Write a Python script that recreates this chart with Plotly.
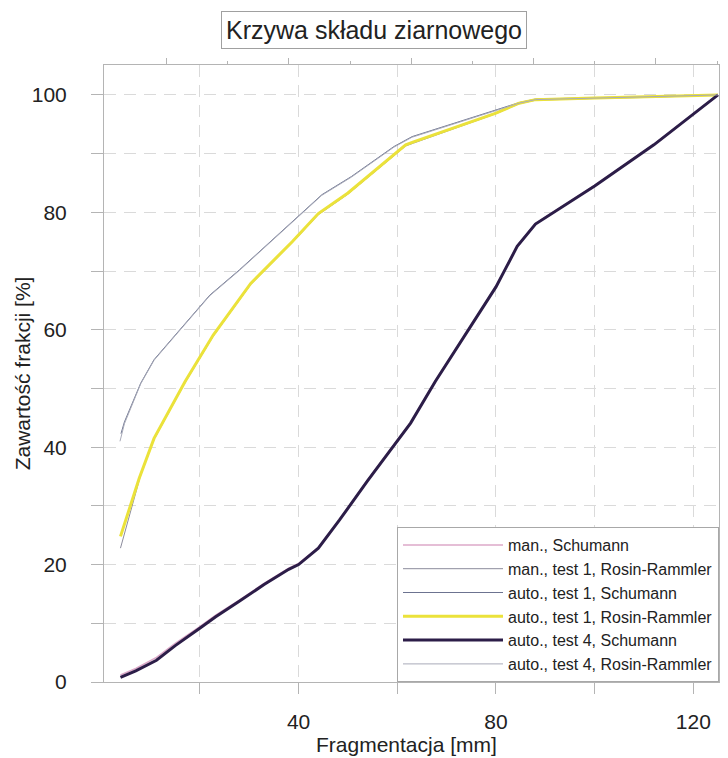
import plotly.graph_objects as go

# ---- data ----
x_man_schumann = [3.9, 7.0, 11.2, 15.0, 19.9, 23.2, 27.9, 33.0, 38.0, 40.0, 44.0, 48.3, 54.0, 62.7, 67.7, 74.0, 80.0, 84.3, 88.0, 100.0, 112.0, 125.0]
y_man_schumann = [1.2, 2.3, 4.2, 6.6, 9.4, 11.4, 13.9, 16.8, 19.4, 20.2, 22.9, 27.7, 34.4, 44.2, 51.3, 59.5, 67.4, 74.3, 78.1, 84.6, 91.6, 100.0]

x_man_t1_rr = [3.9, 7.9, 10.7, 17.0, 22.7, 30.3, 38.7, 44.0, 50.0, 61.7, 63.3, 80.0, 84.7, 88.0, 100.0, 112.0, 125.0]
y_man_t1_rr = [22.8, 35.0, 41.3, 51.0, 58.9, 67.7, 74.8, 79.6, 83.1, 91.3, 91.8, 96.8, 98.5, 99.1, 99.4, 99.6, 100.0]

x_auto_t1_sch = [4.0, 4.7, 8.0, 10.7, 15.0, 22.0, 28.0, 34.7, 40.0, 44.7, 50.7, 59.3, 63.0, 80.0, 84.7, 88.0, 100.0, 112.0, 125.0]
y_auto_t1_sch = [42.3, 44.3, 50.9, 54.9, 59.1, 65.9, 70.2, 75.3, 79.3, 83.0, 86.1, 91.2, 92.9, 97.4, 98.7, 99.3, 99.5, 99.7, 100.0]

x_auto_t1_rr = [3.9, 7.7, 10.7, 17.0, 22.7, 30.3, 38.7, 44.0, 50.0, 61.7, 63.3, 80.0, 84.7, 88.0, 100.0, 112.0, 125.0]
y_auto_t1_rr = [24.8, 34.7, 41.5, 51.2, 59.1, 67.9, 75.0, 79.8, 83.3, 91.5, 92.0, 96.9, 98.6, 99.2, 99.5, 99.7, 100.0]

x_auto_t4_sch = [3.9, 7.0, 11.2, 15.0, 19.9, 23.2, 27.9, 33.0, 38.0, 40.0, 44.0, 48.3, 54.0, 62.7, 67.7, 74.0, 80.0, 84.3, 88.0, 100.0, 112.0, 125.0]
y_auto_t4_sch = [0.8, 1.9, 3.7, 6.2, 9.1, 11.1, 13.7, 16.6, 19.2, 20.0, 22.8, 27.6, 34.3, 44.1, 51.2, 59.4, 67.3, 74.2, 78.0, 84.5, 91.5, 100.0]

x_auto_t4_rr = [3.8, 4.7, 8.0, 10.7, 15.0, 22.0, 28.0, 34.7, 40.0, 44.7, 50.7, 59.3, 63.0, 80.0, 84.7, 88.0, 100.0, 112.0, 125.0]
y_auto_t4_rr = [41.0, 44.0, 50.8, 54.8, 59.0, 65.8, 70.1, 75.2, 79.2, 82.9, 86.0, 91.1, 92.8, 97.3, 98.6, 99.2, 99.5, 99.7, 100.0]

series_names = ["man., Schumann", "man., test 1, Rosin-Rammler", "auto., test 1, Schumann",
                "auto., test 1, Rosin-Rammler", "auto., test 4, Schumann", "auto., test 4, Rosin-Rammler"]

x_tick_vals = [20, 40, 60, 80, 100, 120]
x_tick_text = ["", "40", "", "80", "", "120"]
y_tick_vals = [0, 10, 20, 30, 40, 50, 60, 70, 80, 90, 100]
y_tick_text = ["0", "", "20", "", "40", "", "60", "", "80", "", "100"]

FONT = "Liberation Sans, Arial, sans-serif"
TXT = "#222222"
AX = "#b4b4b4"
GRID = "#dadada"

fig = go.Figure()

styles = [
    (x_man_schumann, y_man_schumann, "#dca8c8", 1.5),
    (x_man_t1_rr, y_man_t1_rr, "#8c8c9c", 1.0),
    (x_auto_t1_sch, y_auto_t1_sch, "#6c7390", 1.0),
    (x_auto_t1_rr, y_auto_t1_rr, "#ebe23a", 3.0),
    (x_auto_t4_sch, y_auto_t4_sch, "#2c1d48", 3.0),
    (x_auto_t4_rr, y_auto_t4_rr, "#a8aab8", 1.0),
]
for (xs, ys, col, w), name in zip(styles, series_names):
    fig.add_trace(go.Scatter(x=xs, y=ys, mode="lines", name=name,
                             line=dict(color=col, width=w), hoverinfo="skip"))

# dummy traces so the frame axes (top / right) are drawn
fig.add_trace(go.Scatter(x=[], y=[], xaxis="x2", yaxis="y", showlegend=False))
fig.add_trace(go.Scatter(x=[], y=[], xaxis="x", yaxis="y2", showlegend=False))

# page body has an 8px margin: figure is 8px smaller and shifted accordingly
fig.update_layout(
    width=720, height=750,
    margin=dict(l=96, r=4, t=57, b=76),
    paper_bgcolor="white", plot_bgcolor="white",
    font=dict(family=FONT, color=TXT),
    showlegend=True,
    xaxis=dict(
        range=[0.56, 125.2], showline=True, linecolor=AX, linewidth=1,
        ticks="outside", ticklen=11, tickcolor=AX,
        tickvals=x_tick_vals, ticktext=x_tick_text,
        tickfont=dict(size=21, color=TXT), ticklabelstandoff=10,
        showgrid=True, gridcolor=GRID, griddash="12px,8px", zeroline=False,
        automargin=False,
    ),
    yaxis=dict(
        range=[0, 105.1], showline=True, linecolor=AX, linewidth=1,
        ticks="outside", ticklen=12, tickcolor=AX,
        tickvals=y_tick_vals, ticktext=y_tick_text,
        tickfont=dict(size=21, color=TXT), ticklabelstandoff=20,
        showgrid=True, gridcolor=GRID, griddash="12px,8px", zeroline=False,
        automargin=False,
    ),
    xaxis2=dict(
        overlaying="x", side="top", anchor="y", range=[-0.02, 10.03],
        showline=True, linecolor=AX, linewidth=1,
        ticks="outside", ticklen=6, tickcolor=AX, tickvals=[1, 3, 5, 7, 9],
        minor=dict(tickvals=[2, 4, 6, 8, 10], ticks="outside", ticklen=3, tickcolor=AX),
        showticklabels=False, showgrid=False, zeroline=False,
    ),
    yaxis2=dict(
        overlaying="y", side="right", anchor="x", range=[0.652, 11.95],
        showline=True, linecolor=AX, linewidth=1,
        ticks="outside", ticklen=5, tickcolor=AX, tickvals=list(range(1, 12)),
        showticklabels=False, showgrid=False, zeroline=False,
    ),
    legend=dict(
        x=1, xanchor="right", y=0, yanchor="bottom",
        bgcolor="white", bordercolor="#a8a8a8", borderwidth=1,
        font=dict(size=16, color=TXT), itemwidth=100,
        tracegroupgap=0,
    ),
    annotations=[
        dict(text="Krzywa składu ziarnowego", xref="paper", yref="paper",
             x=0.4385, y=1.0567, xanchor="center", yanchor="middle", showarrow=False,
             font=dict(size=25, color=TXT), bordercolor="#a0a0a0", borderwidth=1,
             borderpad=4, bgcolor="white"),
        dict(text="Fragmentacja [mm]", xref="paper", yref="paper",
             x=0.492, y=-0.102, xanchor="center", yanchor="middle", showarrow=False,
             font=dict(size=21, color=TXT)),
        dict(text="Zawartość frakcji [%]", xref="paper", yref="paper",
             x=-0.132, y=0.5, xanchor="center", yanchor="middle", showarrow=False,
             textangle=-90, font=dict(size=21, color=TXT)),
    ],
)

fig.write_html("out.html")
